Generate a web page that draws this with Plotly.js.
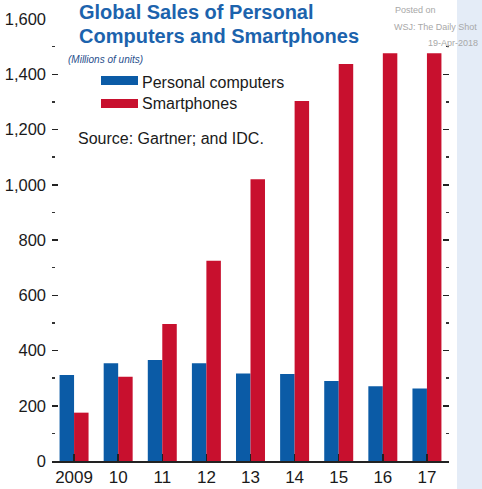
<!DOCTYPE html>
<html><head><meta charset="utf-8">
<script src="https://cdn.plot.ly/plotly-3.0.1.min.js"></script>
<style>html,body{margin:0;padding:0;background:#fff;}#chart{width:482px;height:489px;}</style>
</head><body><div id="chart"></div>
<script>
const categories = ['2009','2010','2011','2012','2013','2014','2015','2016','2017'];
const tickLabels = ['2009','10','11','12','13','14','15','16','17'];
const pcSales = [311, 354, 366, 354, 317, 315, 290, 271, 262];
const smartphoneSales = [175, 305, 496, 725, 1020, 1303, 1437, 1476, 1476];
const seriesNames = ['Personal computers', 'Smartphones'];

const W = 482, H = 489, L = 52, R = 33, T = 19, B = 28;
const PW = W - L - R, PH = H - T - B;
const px = x => (x - L) / PW;
const py = y => (H - B - y) / PH;

const SANS = '"Liberation Sans", Arial, Helvetica, sans-serif';
const BLUE = '#0b5ba6', RED = '#c8102e', TBLUE = '#1c63ad';

const xIdx = categories.map((c, i) => i);

const traces = [
  {type:'bar', name:seriesNames[0], x:xIdx, y:pcSales, marker:{color:BLUE}, hoverinfo:'y'},
  {type:'bar', name:seriesNames[1], x:xIdx, y:smartphoneSales, marker:{color:RED}, hoverinfo:'y'}
];

const ann = (text, x, y, o) => Object.assign({text, x:px(x), y:py(y), xref:'paper', yref:'paper', showarrow:false, xanchor:'left', yanchor:'middle'}, o||{});

const layout = {
  width: W, height: H,
  margin: {l:L, r:R, t:T, b:B, pad:0},
  paper_bgcolor:'#ffffff', plot_bgcolor:'rgba(0,0,0,0)',
  showlegend:false,
  barmode:'group', bargap:0.343, bargroupgap:0,
  font:{family:SANS, color:'#1a1a1a'},
  xaxis:{
    range:[-0.5, 8.5], tickmode:'array', tickvals:xIdx, ticktext:tickLabels,
    tickson:'boundaries', ticks:'inside', ticklen:7, tickwidth:1.5, tickcolor:'#222',
    showline:true, linecolor:'#222', linewidth:1.5, showgrid:false, zeroline:false,
    tickfont:{family:SANS, size:17, color:'#1a1a1a'}, fixedrange:true
  },
  yaxis:{
    range:[0, 1600], dtick:200, tickformat:',', ticks:'inside', ticklen:6, tickwidth:1.5, tickcolor:'#222',
    mirror:'ticks', showline:false, showgrid:false, zeroline:false,
    minor:{dtick:100, ticks:'inside', ticklen:3, tickwidth:1.5, tickcolor:'#333'},
    tickfont:{family:SANS, size:16.5, color:'#1a1a1a'}, ticklabelstandoff:5, fixedrange:true
  },
  shapes:[
    {type:'rect', xref:'paper', yref:'paper', x0:px(457), x1:px(482), y0:py(489), y1:py(0), fillcolor:'#e4ecf7', line:{width:0}, layer:'below'},
    {type:'rect', xref:'paper', yref:'paper', x0:px(101), x1:px(138), y0:py(85), y1:py(76), fillcolor:BLUE, line:{width:0}},
    {type:'rect', xref:'paper', yref:'paper', x0:px(101), x1:px(138), y0:py(108), y1:py(99), fillcolor:RED, line:{width:0}}
  ],
  annotations:[
    ann('<b>Global Sales of Personal</b>', 77, 12, {font:{family:SANS, size:20, color:TBLUE}}),
    ann('<b>Computers and Smartphones</b>', 77, 36, {font:{family:SANS, size:20, color:TBLUE}}),
    ann('<i>(Millions of units)</i>', 66, 59, {font:{family:SANS, size:10, color:'#1f4e8c'}}),
    ann(seriesNames[0], 140, 82, {font:{family:SANS, size:16, color:'#1a1a1a'}}),
    ann(seriesNames[1], 140, 104, {font:{family:SANS, size:16, color:'#1a1a1a'}}),
    ann('Source: Gartner; and IDC.', 76, 138, {font:{family:SANS, size:16, color:'#1a1a1a'}}),
    ann('Posted on', 393, 10, {font:{family:SANS, size:9, color:'#a8a8a8'}}),
    ann('WSJ: The Daily Shot', 479, 27, {xanchor:'right', font:{family:SANS, size:9, color:'#a8a8a8'}}),
    ann('19-Apr-2018', 480, 43, {xanchor:'right', font:{family:SANS, size:9, color:'#a8a8a8'}})
  ]
};

Plotly.newPlot('chart', traces, layout, {displayModeBar:false, staticPlot:true});
</script></body></html>
